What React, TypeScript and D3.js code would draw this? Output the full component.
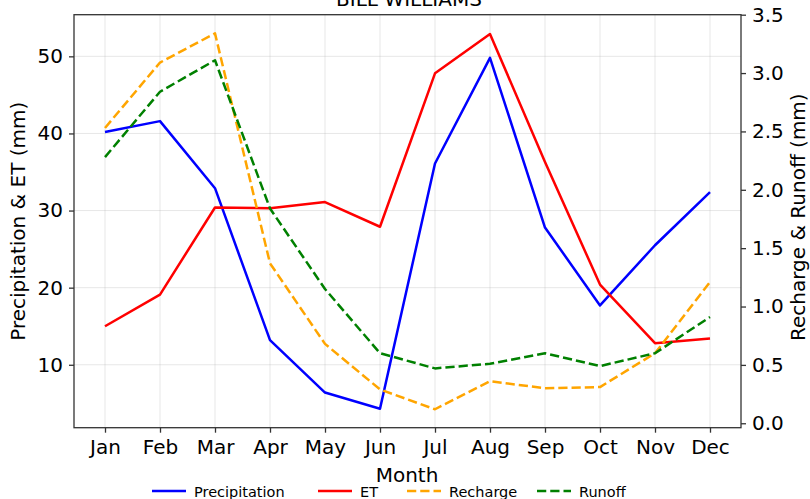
import React, { useEffect, useRef } from 'react';
import * as d3 from 'd3';

const months = ['Jan', 'Feb', 'Mar', 'Apr', 'May', 'Jun', 'Jul', 'Aug', 'Sep', 'Oct', 'Nov', 'Dec'];
const precipitation = [40.2, 41.6, 32.9, 13.2, 6.4, 4.3, 36.1, 49.8, 27.8, 17.7, 25.5, 32.4];
const et = [15.0, 19.1, 30.4, 30.3, 31.1, 27.9, 47.8, 52.9, 36.3, 20.4, 12.8, 13.4];
const recharge = [2.53, 3.09, 3.34, 1.37, 0.68, 0.29, 0.12, 0.36, 0.3, 0.31, 0.6, 1.21];
const runoff = [2.28, 2.84, 3.11, 1.84, 1.15, 0.6, 0.47, 0.51, 0.6, 0.49, 0.6, 0.91];
const leftTicks = [10, 20, 30, 40, 50];
const rightTicks = [0, 0.5, 1, 1.5, 2, 2.5, 3, 3.5];

const FONT = 'DejaVu Sans, sans-serif';

const App: React.FC = () => {
    const chartRef = useRef<SVGSVGElement | null>(null);

    useEffect(() => {
        if (!chartRef.current) return;
        const svg = d3.select(chartRef.current);
        svg.selectAll('*').remove();

        const width = 810;
        const height = 499;
        const margin = { top: 14.7, right: 69, bottom: 71.3, left: 74 };
        const x0 = margin.left, x1 = width - margin.right;
        const y0 = height - margin.bottom, y1 = margin.top;

        const x = d3.scalePoint<string>()
            .domain(months)
            .range([105, 710]);

        const yLeft = d3.scaleLinear().domain([1.84, 55.4]).range([y0, y1]);
        const yRight = d3.scaleLinear().domain([-0.038, 3.5]).range([y0, y1]);

        // grid
        const grid = svg.append('g').attr('stroke', '#b0b0b0').attr('stroke-opacity', 0.3).attr('stroke-width', 1);
        grid.selectAll('.vg').data(months).enter().append('line')
            .attr('x1', d => x(d) as number).attr('x2', d => x(d) as number)
            .attr('y1', y1).attr('y2', y0);
        grid.selectAll('.hg').data(leftTicks).enter().append('line')
            .attr('x1', x0).attr('x2', x1)
            .attr('y1', d => yLeft(d)).attr('y2', d => yLeft(d));

        const series = [
            { name: 'Precipitation', values: precipitation, color: '#0000ff', dash: null, scale: yLeft },
            { name: 'ET', values: et, color: '#ff0000', dash: null, scale: yLeft },
            { name: 'Recharge', values: recharge, color: '#ffa500', dash: '9.25,4', scale: yRight },
            { name: 'Runoff', values: runoff, color: '#008000', dash: '9.25,4', scale: yRight },
        ];

        series.forEach(s => {
            const line = d3.line<number>()
                .x((_, i) => x(months[i]) as number)
                .y(d => s.scale(d));
            svg.append('path')
                .datum(s.values)
                .attr('d', line)
                .attr('fill', 'none')
                .attr('stroke', s.color)
                .attr('stroke-width', 2.5)
                .attr('stroke-dasharray', s.dash)
                .attr('stroke-linejoin', 'round');
        });

        // frame
        svg.append('rect')
            .attr('x', x0).attr('y', y1)
            .attr('width', x1 - x0).attr('height', y0 - y1)
            .attr('fill', 'none').attr('stroke', '#333').attr('stroke-width', 1.3);

        const styleAxis = (g: d3.Selection<SVGGElement, unknown, null, undefined>) => {
            g.select('.domain').remove();
            g.selectAll('.tick line').attr('stroke', '#333').attr('stroke-width', 1.3);
            g.selectAll('.tick text').attr('font-family', FONT).attr('font-size', 20).attr('fill', '#000');
        };

        svg.append('g')
            .attr('transform', `translate(0,${y0})`)
            .call(d3.axisBottom(x).tickSize(5).tickPadding(7))
            .call(styleAxis);

        svg.append('g')
            .attr('transform', `translate(${x0},0)`)
            .call(d3.axisLeft(yLeft).tickValues(leftTicks).tickSize(5).tickPadding(6))
            .call(styleAxis);

        svg.append('g')
            .attr('transform', `translate(${x1},0)`)
            .call(d3.axisRight(yRight).tickValues(rightTicks).tickFormat(d3.format('.1f')).tickSize(5).tickPadding(6))
            .call(styleAxis);

        // labels
        svg.append('text')
            .attr('x', 409).attr('y', 6)
            .attr('text-anchor', 'middle')
            .attr('font-family', FONT).attr('font-size', 20)
            .text('BILL WILLIAMS');

        svg.append('text')
            .attr('x', 407).attr('y', 482)
            .attr('text-anchor', 'middle')
            .attr('font-family', FONT).attr('font-size', 20)
            .text('Month');

        svg.append('text')
            .attr('transform', `translate(25,${(y0 + y1) / 2}) rotate(-90)`)
            .attr('text-anchor', 'middle')
            .attr('font-family', FONT).attr('font-size', 20)
            .text('Precipitation & ET (mm)');

        svg.append('text')
            .attr('transform', `translate(805,${(y0 + y1) / 2 - 4}) rotate(-90)`)
            .attr('text-anchor', 'middle')
            .attr('font-family', FONT).attr('font-size', 20)
            .text('Recharge & Runoff (mm)');

        // legend
        const legendX = [152, 318, 407, 537];
        const legend = svg.append('g');
        series.forEach((s, i) => {
            const g = legend.append('g').attr('transform', `translate(${legendX[i]},491)`);
            g.append('line')
                .attr('x1', 0).attr('x2', 34).attr('y1', 0).attr('y2', 0)
                .attr('stroke', s.color).attr('stroke-width', 2.5)
                .attr('stroke-dasharray', s.dash);
            g.append('text')
                .attr('x', 42).attr('y', 5.5)
                .attr('font-family', FONT).attr('font-size', 14.5)
                .text(s.name);
        });
    }, []);

    return (
        <svg ref={chartRef} width={810} height={499}
            style={{ position: 'absolute', left: 0, top: 0, background: '#fff' }} />
    );
};

export default App;
